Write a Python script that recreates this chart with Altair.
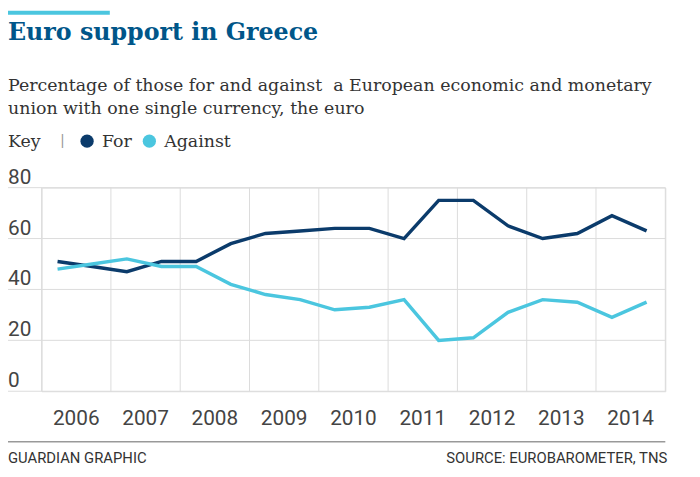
import altair as alt
import pandas as pd

# ---- data ----
survey_dates = [2006.23, 2006.73, 2007.23, 2007.73, 2008.23, 2008.73,
                2009.23, 2009.73, 2010.23, 2010.73, 2011.23, 2011.73,
                2012.23, 2012.73, 2013.23, 2013.73, 2014.23, 2014.73]
for_values = [51, 49, 47, 51, 51, 58, 62, 63, 64, 64, 60, 75, 75, 65, 60, 62, 69, 63]
against_values = [48, 50, 52, 49, 49, 42, 38, 36, 32, 33, 36, 20, 21, 31, 36, 35, 29, 35]
series_names = ["For", "Against"]
series_colors = ["#0b3b6b", "#4bc6df"]
year_bounds = [2006, 2007, 2008, 2009, 2010, 2011, 2012, 2013, 2014, 2015]
year_label_pos = [2006.5, 2007.5, 2008.5, 2009.5, 2010.5, 2011.5, 2012.5, 2013.5, 2014.5]
year_labels = ["2006", "2007", "2008", "2009", "2010", "2011", "2012", "2013", "2014"]
y_ticks = [0, 20, 40, 60, 80]

title_text = "Euro support in Greece"
subtitle_lines = ["Percentage of those for and against\u00a0 a European economic and monetary",
                  "union with one single currency, the euro"]
credit_text = "GUARDIAN GRAPHIC"
source_text = "SOURCE: EUROBAROMETER, TNS"

df = pd.DataFrame({
    "t": survey_dates + survey_dates,
    "value": for_values + against_values,
    "series": [series_names[0]] * len(for_values) + [series_names[1]] * len(against_values),
})
grid_y = pd.DataFrame({"v": y_ticks})
grid_x = pd.DataFrame({"year": year_bounds})
xlab_df = pd.DataFrame({"pos": year_label_pos, "label": year_labels})
legend_df = pd.DataFrame({"series": series_names})
one = pd.DataFrame({"a": [0]})

SANS = "Roboto"
SERIF = "DejaVu Serif"

xscale = alt.Scale(domain=[2006, 2015], nice=False, zero=False)
yscale = alt.Scale(domain=[0, 80], nice=False, zero=True)
cscale = alt.Scale(domain=series_names, range=series_colors)

W, H = 631, 206

hgrid = alt.Chart(grid_y).mark_rule(color="#dcdcdc", strokeWidth=1).encode(
    y=alt.Y("v:Q", scale=yscale, axis=None),
    x=alt.value(-34), x2=alt.value(W),
)
vgrid = alt.Chart(grid_x).mark_rule(color="#dcdcdc", strokeWidth=1).encode(
    x=alt.X("year:Q", scale=xscale, axis=None),
    y=alt.value(0), y2=alt.value(H),
)
ylabels = alt.Chart(grid_y).mark_text(
    align="left", baseline="alphabetic", dy=-4, font=SANS, fontSize=21, color="#444"
).encode(
    y=alt.Y("v:Q", scale=yscale, axis=None),
    x=alt.value(-34),
    text=alt.Text("v:Q"),
)
xlabels = alt.Chart(xlab_df).mark_text(
    align="center", baseline="alphabetic", font=SANS, fontSize=21, color="#444"
).encode(
    x=alt.X("pos:Q", scale=xscale, axis=None),
    y=alt.value(240),
    text=alt.Text("label:N"),
)

lines = alt.Chart(df).mark_line(strokeWidth=3.5).encode(
    x=alt.X("t:Q", scale=xscale, axis=None),
    y=alt.Y("value:Q", scale=yscale, axis=None),
    color=alt.Color("series:N", scale=cscale, legend=None),
    order=alt.Order("t:Q"),
)


def label(text, x, y, **kw):
    opts = dict(align="left", baseline="alphabetic")
    opts.update(kw)
    return alt.Chart(one).mark_text(**opts).encode(
        x=alt.value(x), y=alt.value(y), text=alt.value(text))


top_bar = alt.Chart(one).mark_rect(color="#4bc6df").encode(
    x=alt.value(-34), x2=alt.value(69), y=alt.value(-179), y2=alt.value(-175))

title = label(title_text, -34, -149, font=SERIF, fontSize=24, fontWeight="bold", color="#005689")
sub1 = label(subtitle_lines[0], -34, -98, font=SERIF, fontSize=17.6, color="#333")
sub2 = label(subtitle_lines[1], -34, -75, font=SERIF, fontSize=17.6, color="#333")
key = label("Key", -34, -41, font=SERIF, fontSize=17.6, color="#333")
sep = label("|", 19, -42, font=SANS, fontSize=16, color="#999")
for_lbl = label("For", 61, -41, font=SERIF, fontSize=17.6, color="#333")
ag_lbl = label("Against", 124, -41, font=SERIF, fontSize=17.6, color="#333")

dot_for = alt.Chart(legend_df).transform_filter(alt.datum.series == "For").mark_circle(
    size=180, opacity=1).encode(
    x=alt.value(46), y=alt.value(-47),
    color=alt.Color("series:N", scale=cscale, legend=None))
dot_ag = alt.Chart(legend_df).transform_filter(alt.datum.series == "Against").mark_circle(
    size=180, opacity=1).encode(
    x=alt.value(109), y=alt.value(-47),
    color=alt.Color("series:N", scale=cscale, legend=None))

bottom_rule = alt.Chart(one).mark_rule(color="#999", strokeWidth=1.5).encode(
    x=alt.value(-34), x2=alt.value(W), y=alt.value(257))
credit = label(credit_text, -34, 279, font=SANS, fontSize=15, color="#333")
source = label(source_text, 633, 279, align="right", font=SANS, fontSize=15, color="#333")

chart = alt.layer(
    hgrid, vgrid, ylabels, xlabels, lines, top_bar, title, sub1, sub2, key, sep,
    dot_for, dot_ag, for_lbl, ag_lbl, bottom_rule, credit, source
).properties(
    width=W, height=H,
    padding={"left": 34, "top": 179, "right": 27, "bottom": 84},
    autosize="none",
).configure_view(stroke=None).configure(background="white")

chart.save("out.html", embed_options={"renderer": "svg", "actions": False})
